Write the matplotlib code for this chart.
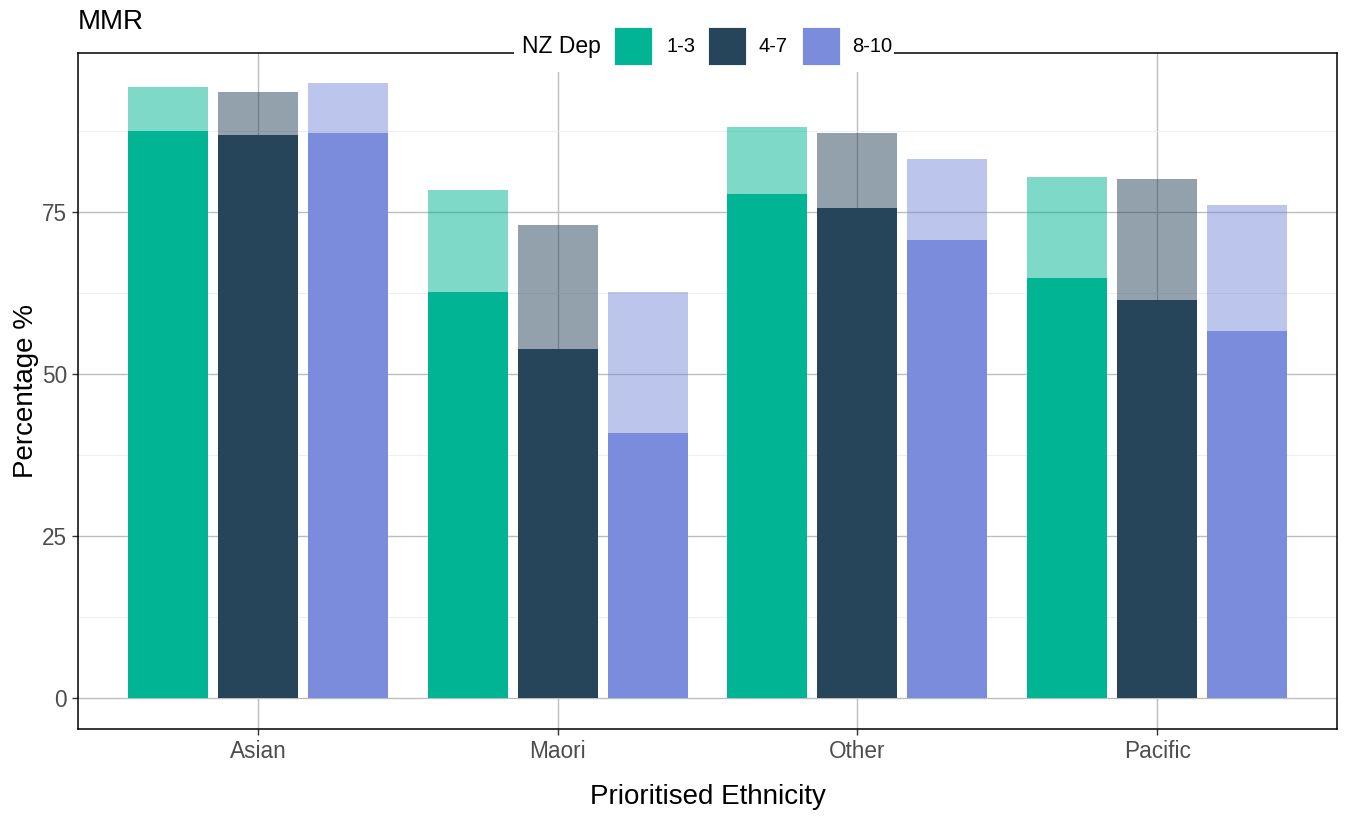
import matplotlib
matplotlib.use("Agg")
import matplotlib.pyplot as plt
from matplotlib.patches import Rectangle
import numpy as np

plt.rcParams['font.family'] = ['Liberation Sans', 'DejaVu Sans']

categories = ["Asian", "Maori", "Other", "Pacific"]
groups = ["1-3", "4-7", "8-10"]
# solid (lower) values per group
solid = {
    "1-3":  [87.6, 62.7, 77.9, 64.8],
    "4-7":  [86.9, 53.9, 75.6, 61.5],
    "8-10": [87.3, 41.0, 70.7, 56.7],
}
# translucent (upper) values per group
upper = {
    "1-3":  [94.3, 78.4, 88.2, 80.5],
    "4-7":  [93.6, 73.0, 87.3, 80.1],
    "8-10": [94.9, 62.7, 83.2, 76.1],
}
colors = {"1-3": "#00B494", "4-7": "#27455A", "8-10": "#7A8CDB"}

W, H = 1350, 817
fig = plt.figure(figsize=(W/100, H/100), dpi=100)
ax = fig.add_axes([78/W, (H-729)/H, (1337-78)/W, (729-53)/H])

x = np.arange(1, len(categories)+1)
slot = 0.3
bw = 0.267
for i, g in enumerate(groups):
    xs = x + (i-1)*slot
    ax.bar(xs, upper[g], width=bw, color=colors[g], alpha=0.5, zorder=2, linewidth=0)
    ax.bar(xs, solid[g], width=bw, color=colors[g], zorder=3, linewidth=0)

ax.set_xlim(0.4, 4.6)
ax.set_ylim(-4.75, 99.6)
ax.set_xticks(x)
ax.set_xticklabels(categories)
ax.set_yticks([0, 25, 50, 75])
ax.set_yticks([12.5, 37.5, 62.5, 87.5], minor=True)
ax.grid(True, which='major', color='#bdbdbd', linewidth=1.0, zorder=0)
ax.grid(True, which='minor', axis='y', color='#ebebeb', linewidth=0.6, zorder=0)
ax.set_axisbelow(True)
ax.tick_params(axis='both', which='major', length=4, width=1.0, color='#333333',
               labelsize=16.3, labelcolor='#4D4D4D', pad=4)
ax.tick_params(axis='y', which='minor', length=0)
for s in ax.spines.values():
    s.set_color('black')
    s.set_linewidth(1.1)
    s.set_zorder(5)

ax.set_xlabel("Prioritised Ethnicity", fontsize=20, labelpad=15)
ax.set_ylabel("Percentage %", fontsize=20, labelpad=2)
fig.text(78/W, 1-22/H, "MMR", fontsize=20, ha='left', va='center')

# legend (manual, horizontal with title at left)
def fx(px): return px / W
def fy(py): return 1 - py / H
fig.patches.append(Rectangle((fx(514), fy(72)), fx(894)-fx(514), fy(26)-fy(72),
                             transform=fig.transFigure, facecolor='white',
                             edgecolor='none', zorder=10))
fig.text(fx(601), fy(47), "NZ Dep", fontsize=16.5, ha='right', va='center', zorder=11)
keys = [(614, 666), (708, 759), (802, 852)]
for (kx, lx), g in zip(keys, groups):
    fig.patches.append(Rectangle((fx(kx), fy(65)), fx(kx+38)-fx(kx), fy(27)-fy(65),
                                 transform=fig.transFigure, facecolor=colors[g],
                                 edgecolor='white', linewidth=0.6, zorder=11))
    fig.text(fx(lx), fy(47), g, fontsize=14.5, ha='left', va='center', zorder=11)

fig.savefig("out.png", dpi=100)
